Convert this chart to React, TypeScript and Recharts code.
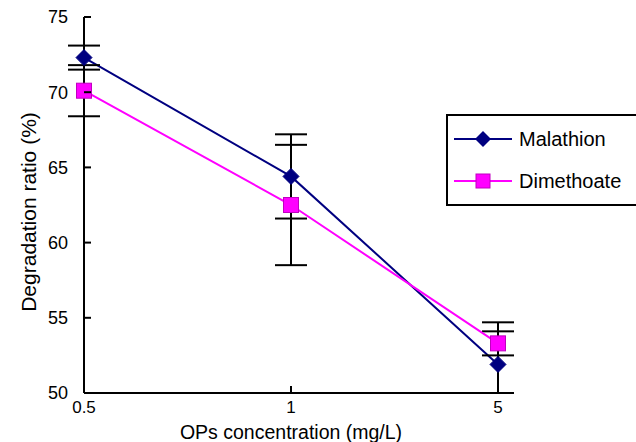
import { LineChart, Line, XAxis, YAxis, ErrorBar, Label } from 'recharts';

// OPs concentration (mg/L) categories
const concentrations = ['0.5', '1', '5'];

// degradation ratio (%) with standard deviation
const malathion = [72.3, 64.4, 51.9];
const malathionErrLow = [0.8, 2.8, 1.9]; // last one stops at the axis floor
const malathionErrHigh = [0.8, 2.8, 2.8];
const dimethoate = [70.1, 62.5, 53.3];
const dimethoateErr = [1.7, 4.0, 0.8];

const yTicks = [50, 55, 60, 65, 70, 75];

const NAVY = '#000080';
const MAGENTA = '#FF00FF';
const FONT = '"Liberation Sans", Arial, sans-serif';

const data = concentrations.map((c, i) => ({
  conc: c,
  malathion: malathion[i],
  malErr: [malathionErrLow[i], malathionErrHigh[i]],
  dimethoate: dimethoate[i],
  dimErr: dimethoateErr[i],
}));

const Y_MARGIN = 16;
const X_MARGIN = 8;

function YTick({ x, y, payload }: any) {
  return (
    <g>
      <line x1={x + Y_MARGIN} y1={y} x2={x + Y_MARGIN + 7} y2={y} stroke="#000" strokeWidth={2} />
      <text x={x} y={y} dy="0.36em" textAnchor="end" fontSize={18} fontFamily={FONT} fill="#000">
        {payload.value}
      </text>
    </g>
  );
}

function XTick({ x, y, payload }: any) {
  return (
    <g>
      <line x1={x} y1={y - X_MARGIN} x2={x} y2={y - X_MARGIN - 7} stroke="#000" strokeWidth={2} />
      <text x={x} y={y} dy="0.72em" textAnchor="middle" fontSize={17} fontFamily={FONT} fill="#000">
        {payload.value}
      </text>
    </g>
  );
}

function Diamond({ cx, cy }: any) {
  return (
    <polygon
      points={`${cx},${cy - 8} ${cx + 8},${cy} ${cx},${cy + 8} ${cx - 8},${cy}`}
      fill={NAVY}
      stroke={NAVY}
      strokeWidth={1}
    />
  );
}

function Square({ cx, cy }: any) {
  return (
    <rect x={cx - 7.5} y={cy - 7.5} width={15} height={15} fill={MAGENTA} stroke="#C000C0" strokeWidth={1} />
  );
}

function YTitle({ viewBox }: any) {
  const cx = viewBox.x + 36;
  const cy = viewBox.y + viewBox.height / 2 + 7;
  return (
    <text
      x={cx}
      y={cy}
      transform={`rotate(-90, ${cx}, ${cy})`}
      textAnchor="middle"
      fontSize={21}
      fontFamily={FONT}
      fill="#000"
    >
      Degradation ratio (%)
    </text>
  );
}

// legend box sits on top of the chart, right edge runs off the page like the original
function LegendBox() {
  const rows = [
    { name: 'Malathion', color: NAVY, shape: 'diamond', top: 25 },
    { name: 'Dimethoate', color: MAGENTA, shape: 'square', top: 67 },
  ];
  return (
    <div
      style={{
        position: 'absolute',
        left: 446,
        top: 114,
        width: 200,
        height: 92,
        boxSizing: 'border-box',
        border: '2px solid #000',
        background: '#fff',
        fontFamily: FONT,
        fontSize: 20,
      }}
    >
      {rows.map((r) => (
        <div key={r.name} style={{ position: 'absolute', left: 0, top: r.top - 16, height: 28, width: 200 }}>
          <svg width={70} height={28} style={{ position: 'absolute', left: 6, top: 0 }}>
            <line x1={0} y1={14} x2={58} y2={14} stroke={r.color} strokeWidth={2} />
            {r.shape === 'diamond' ? (
              <polygon points="29,6 37,14 29,22 21,14" fill={NAVY} />
            ) : (
              <rect x={22} y={7} width={14} height={14} fill={MAGENTA} stroke="#C000C0" strokeWidth={1} />
            )}
          </svg>
          <span style={{ position: 'absolute', left: 71, top: 0, lineHeight: '28px', color: '#000' }}>{r.name}</span>
        </div>
      ))}
    </div>
  );
}

export default function App() {
  return (
    <div
      style={{
        position: 'absolute',
        left: 0,
        top: 0,
        width: 636,
        height: 442,
        overflow: 'hidden',
        background: '#fff',
      }}
    >
      <LineChart width={636} height={442} data={data} margin={{ top: 17, right: 138, bottom: 0, left: 0 }}>
        <XAxis
          dataKey="conc"
          height={49}
          tickSize={0}
          tickMargin={X_MARGIN}
          tick={<XTick />}
          axisLine={{ stroke: '#000', strokeWidth: 2 }}
          interval={0}
        >
          <Label
            value="OPs concentration (mg/L)"
            position="insideBottom"
            offset={3}
            style={{ fontSize: 19.5, fontFamily: FONT, fill: '#000' }}
          />
        </XAxis>
        <YAxis
          type="number"
          domain={[50, 75]}
          ticks={yTicks}
          interval={0}
          width={84}
          tickSize={0}
          tickMargin={Y_MARGIN}
          tick={<YTick />}
          axisLine={{ stroke: '#000', strokeWidth: 2 }}
        >
          <Label content={<YTitle />} />
        </YAxis>
        <Line
          dataKey="malathion"
          name="Malathion"
          type="linear"
          stroke={NAVY}
          strokeWidth={2}
          dot={(p: any) => <Diamond key={`md-${p.index}`} {...p} />}
          activeDot={false}
          isAnimationActive={false}
        >
          <ErrorBar dataKey="malErr" direction="y" width={16} stroke="#000" strokeWidth={2} />
        </Line>
        <Line
          dataKey="dimethoate"
          name="Dimethoate"
          type="linear"
          stroke={MAGENTA}
          strokeWidth={2}
          dot={(p: any) => <Square key={`ds-${p.index}`} {...p} />}
          activeDot={false}
          isAnimationActive={false}
        >
          <ErrorBar dataKey="dimErr" direction="y" width={16} stroke="#000" strokeWidth={2} />
        </Line>
      </LineChart>
      <LegendBox />
    </div>
  );
}
